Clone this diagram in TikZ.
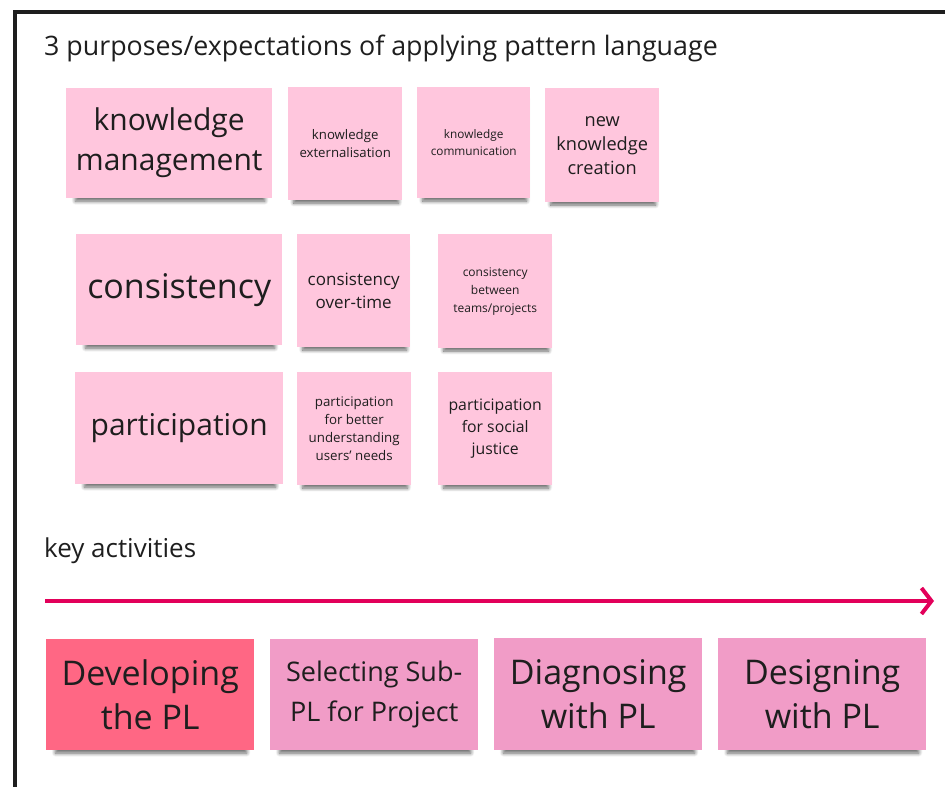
\documentclass[tikz,border=0pt]{standalone}
\usepackage{fontspec}
\setmainfont{Open Sans}
\usepackage{xcolor}
\usetikzlibrary{arrows.meta, shadows.blur}

\definecolor{inkgray}{HTML}{1E1E1E}
\definecolor{stickylight}{HTML}{FFC6DD}
\definecolor{stickymid}{HTML}{F19CC7}
\definecolor{stickyhot}{HTML}{FF6784}
\definecolor{arrowred}{HTML}{E2005A}

\begin{document}
\begin{tikzpicture}[
  x=1pt, y=-1pt,
  sticky/.style={fill=stickylight, anchor=north west, align=center, inner sep=2pt,
    text=inkgray, blur shadow={shadow xshift=1pt, shadow yshift=-8pt, shadow scale=0.92,
    shadow blur radius=4pt, shadow blur steps=8, shadow opacity=60}},
  boxsize/.style 2 args={minimum width=#1, minimum height=#2},
  fs/.style 2 args={font=\fontsize{#1}{#2}\selectfont},
  heading/.style={anchor=base west, text=inkgray, inner sep=0pt},
  activity/.style={sticky, fill=stickymid, boxsize={208}{111}},
  >={Straight Barb[length=10pt, width=26pt]}
]
  \useasboundingbox (0,0) rectangle (945,787);
  \clip (0,0) rectangle (945,787);

  % open frame: left edge and top edge only
  \draw[inkgray, line width=4pt] (15,800) -- (15,12) -- (960,12);

  % heading of the purposes part
  \node[heading, fs={26.8}{30}] (purposes) at (44,55) {3 purposes/expectations of applying pattern language};

  % row 1: knowledge management
  \node[sticky, boxsize={206}{110}, fs={30}{40}] (km) at (66,88) {knowledge\\management};
  \node[sticky, boxsize={114}{113}, fs={13.2}{18}] (kext) at (288,87) {knowledge\\externalisation};
  \node[sticky, boxsize={113}{111}, fs={11.8}{17}] (kcomm) at (417,87) {knowledge\\communication};
  \node[sticky, boxsize={114}{114}, fs={18.2}{24}] (knew) at (545,88) {new\\knowledge\\creation};

  % row 2: consistency
  \node[sticky, boxsize={206}{111}, fs={34}{40}] (cons) at (76,234) {consistency};
  \node[sticky, boxsize={113}{113}, fs={17}{23}] (ctime) at (297,234) {consistency\\over-time};
  \node[sticky, boxsize={114}{114}, fs={12}{18}] (cteams) at (438,234) {consistency\\between\\teams/projects};

  % row 3: participation
  \node[sticky, boxsize={208}{112}, fs={30}{38}] (part) at (75,372) {participation};
  \node[sticky, boxsize={114}{113}, fs={13.3}{18}] (pusers) at (297,372) {participation\\for better\\understanding\\users' needs};
  \node[sticky, boxsize={114}{113}, fs={15.8}{22}] (pjustice) at (438,372) {participation\\for social\\justice};

  % heading of the activities part
  \node[heading, fs={26}{30}] (keyact) at (44,557) {key activities};

  % time line
  \coordinate (tstart) at (45,601);
  \coordinate (tend) at (934,601);
  \draw[->, arrowred, line width=4pt] (tstart) -- (tend);

  % activities along the time line
  \node[activity, fill=stickyhot, fs={34}{44}] (dev) at (46,639) {Developing\\the PL};
  \node[activity, fs={27}{40}] (sel) at (270,639) {Selecting Sub-\\PL for Project};
  \node[activity, boxsize={208}{112}, fs={34}{44}] (diag) at (494,638) {Diagnosing\\with PL};
  \node[activity, boxsize={208}{112}, fs={34}{44}] (des) at (718,638) {Designing\\with PL};
\end{tikzpicture}
\end{document}
